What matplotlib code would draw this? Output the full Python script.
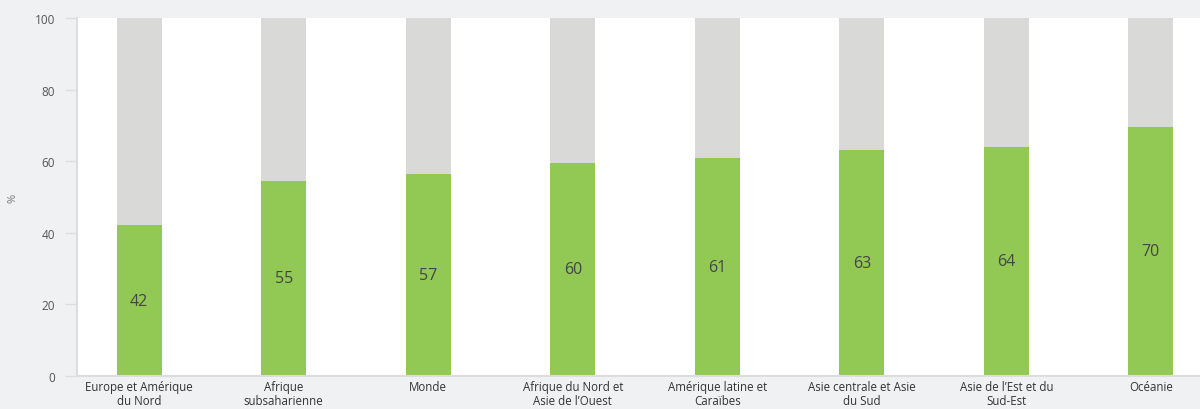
import matplotlib
matplotlib.use("Agg")
import matplotlib.pyplot as plt

categories = ["Europe et Amérique\ndu Nord", "Afrique\nsubsaharienne", "Monde",
              "Afrique du Nord et\nAsie de l’Ouest", "Amérique latine et\nCaraïbes",
              "Asie centrale et Asie\ndu Sud", "Asie de l’Est et du\nSud-Est", "Océanie"]
values = [42.1, 54.6, 56.5, 59.6, 61.0, 63.1, 64.0, 69.6]
labels = ["42", "55", "57", "60", "61", "63", "64", "70"]
total = 100

plt.rcParams['font.family'] = ['Open Sans', 'DejaVu Sans']

bg = "#f0f1f3"
green = "#92c955"
grey = "#d9d9d7"

fig = plt.figure(figsize=(12, 4.1), dpi=100, facecolor=bg)
ax = fig.add_axes([0.0642, 0.0805, 0.9358, 0.873])
ax.set_facecolor("white")

x = list(range(len(categories)))
w = 0.31
ax.bar(x, [total - v for v in values], bottom=values, width=w, color=grey, zorder=2)
ax.bar(x, values, width=w, color=green, zorder=2)
for xi, v, lab in zip(x, values, labels):
    ax.text(xi, v / 2, lab, ha="center", va="center", fontsize=11.5, color="#444444", zorder=3)

ax.set_xlim(-0.43, 7.34)
ax.set_ylim(0, 100)
ax.set_yticks([0, 20, 40, 60, 80, 100])
ax.set_xticks(x)
ax.set_xticklabels(categories, fontsize=8.3, color="#333333", linespacing=1.05)
ax.tick_params(axis="y", labelsize=8.5, labelcolor="#555555", length=9, color="#dddddd", width=1, pad=7)
ax.tick_params(axis="x", length=0, pad=3)
for s in ["top", "right"]:
    ax.spines[s].set_visible(False)
for s in ["left", "bottom"]:
    ax.spines[s].set_color("#dddddd")
    ax.spines[s].set_linewidth(1.5)
ax.set_ylabel("%", fontsize=8, color="#777777")
ax.yaxis.set_label_coords(-0.052, 0.5)

fig.savefig("out.png", dpi=100, facecolor=bg)
